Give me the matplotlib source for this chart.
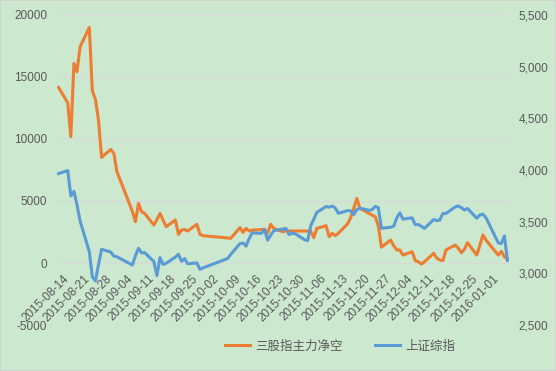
import matplotlib
matplotlib.use("Agg")
import matplotlib.pyplot as plt
import matplotlib.dates as mdates
import matplotlib.ticker as mticker
from matplotlib.transforms import ScaledTranslation
from matplotlib.patches import Rectangle
import pandas as pd

dates = [
    "2015-08-14", "2015-08-17", "2015-08-18", "2015-08-19", "2015-08-20", "2015-08-21",
    "2015-08-24", "2015-08-25", "2015-08-26", "2015-08-27", "2015-08-28", "2015-08-31",
    "2015-09-01", "2015-09-02", "2015-09-07", "2015-09-08", "2015-09-09", "2015-09-10",
    "2015-09-11", "2015-09-14", "2015-09-15", "2015-09-16", "2015-09-17", "2015-09-18",
    "2015-09-21", "2015-09-22", "2015-09-23", "2015-09-24", "2015-09-25", "2015-09-28",
    "2015-09-29", "2015-09-30", "2015-10-08", "2015-10-09", "2015-10-12", "2015-10-13",
    "2015-10-14", "2015-10-15", "2015-10-16", "2015-10-19", "2015-10-20", "2015-10-21",
    "2015-10-22", "2015-10-23", "2015-10-26", "2015-10-27", "2015-10-28", "2015-10-29",
    "2015-10-30", "2015-11-02", "2015-11-03", "2015-11-04", "2015-11-05", "2015-11-06",
    "2015-11-09", "2015-11-10", "2015-11-11", "2015-11-12", "2015-11-13", "2015-11-16",
    "2015-11-17", "2015-11-18", "2015-11-19", "2015-11-20", "2015-11-23", "2015-11-24",
    "2015-11-25", "2015-11-26", "2015-11-27", "2015-11-30", "2015-12-01", "2015-12-02",
    "2015-12-03", "2015-12-04", "2015-12-07", "2015-12-08", "2015-12-09", "2015-12-10",
    "2015-12-11", "2015-12-14", "2015-12-15", "2015-12-16", "2015-12-17", "2015-12-18",
    "2015-12-21", "2015-12-22", "2015-12-23", "2015-12-24", "2015-12-25", "2015-12-28",
    "2015-12-29", "2015-12-30", "2015-12-31", "2016-01-04", "2016-01-05", "2016-01-06",
    "2016-01-07",
]

net_short = [
    14160, 12920, 10180, 16090, 15420, 17430,
    19000, 13890, 13190, 11500, 8520, 9160,
    8840, 7360, 4170, 3330, 4810, 4130,
    4000, 3060, 3500, 4000, 3450, 2930,
    3470, 2310, 2660, 2700, 2580, 3120,
    2310, 2200, 2020, 1990, 2850, 2470,
    2790, 2580, 2650, 2700, 2710, 2400,
    3120, 2790, 2520, 2600, 2580, 2580,
    2580, 2580, 2580, 2580, 2040, 2790,
    3010, 2120, 2390, 2200, 2400, 3150,
    3650, 4400, 5210, 4410, 4000, 3850,
    3730, 3000, 1270, 1850, 1400, 1050,
    1050, 640, 910, 190, 100, -80,
    100, 780, 400, 240, 190, 1050,
    1450, 1200, 830, 1100, 1640, 640,
    1400, 2260, 1850, 640, 950, 500,
    300,
]

sse = [
    3965.33, 3993.67, 3748.16, 3794.11, 3664.29, 3507.74,
    3209.91, 2964.97, 2927.29, 3083.59, 3232.35, 3205.99,
    3166.62, 3160.17, 3080.42, 3170.45, 3243.09, 3197.89,
    3200.23, 3114.80, 2977.56, 3152.26, 3086.06, 3097.92,
    3156.54, 3185.62, 3115.89, 3142.69, 3092.35, 3100.76,
    3038.14, 3052.78, 3143.36, 3183.15, 3287.66, 3293.23,
    3262.44, 3338.07, 3391.35, 3386.70, 3425.33, 3320.68,
    3368.74, 3412.43, 3429.58, 3434.34, 3375.20, 3387.32,
    3382.56, 3325.08, 3316.70, 3459.64, 3522.82, 3590.03,
    3646.88, 3640.49, 3650.25, 3632.90, 3580.84, 3606.96,
    3604.80, 3568.47, 3617.06, 3630.50, 3610.31, 3616.11,
    3647.93, 3635.55, 3436.30, 3445.40, 3456.31, 3536.91,
    3584.82, 3524.99, 3536.93, 3470.07, 3472.44, 3455.50,
    3434.58, 3520.67, 3510.35, 3516.19, 3580.00, 3578.96,
    3642.47, 3651.77, 3636.09, 3612.49, 3627.91, 3533.78,
    3563.74, 3572.88, 3539.18, 3296.26, 3287.71, 3361.84,
    3125.00,
]

series_names = ["三股指主力净空", "上证综指"]
left_ticks = [-5000, 0, 5000, 10000, 15000, 20000]
right_ticks = [2500, 3000, 3500, 4000, 4500, 5000, 5500]
x_tick_dates = pd.date_range("2015-08-14", "2016-01-01", freq="7D")

BG = "#CCE8CF"
ORANGE = "#ED7D31"
BLUE = "#5B9BD5"
TXT = "#595959"

plt.rcParams['font.family'] = ['Liberation Sans', 'Noto Sans CJK SC', 'DejaVu Sans']

fig = plt.figure(figsize=(5.56, 3.71), dpi=100, facecolor=BG)
ax = fig.add_axes([57/556, 1-325/371, (509-57)/556, (325-15)/371])
ax.set_facecolor(BG)

x = pd.to_datetime(dates)
l1, = ax.plot(x, net_short, color=ORANGE, lw=2.2, solid_joinstyle='round')
ax.set_ylim(-5000, 20000)
ax.set_yticks(left_ticks)
ax.yaxis.set_major_formatter(mticker.FuncFormatter(lambda v, p: f"{int(v)}"))
ax.grid(axis='y', color='#d9d9d9', lw=0.8)
ax.set_axisbelow(True)

ax.set_xlim(x[0] - pd.Timedelta(hours=12), x[-1] + pd.Timedelta(hours=12))
ax.set_xticks(x_tick_dates)
ax.xaxis.set_major_formatter(mdates.DateFormatter("%Y-%m-%d"))
ax.spines['bottom'].set_position(('data', 0))
for s in ax.spines.values():
    s.set_color('none')
ax.tick_params(axis='both', length=0, colors=TXT, labelsize=8.5)
ax.tick_params(axis='y', pad=7)
off = ScaledTranslation(0.04, -0.05, fig.dpi_scale_trans)
for lab in ax.get_xticklabels():
    lab.set_rotation(45)
    lab.set_ha('right')
    lab.set_va('top')
    lab.set_rotation_mode('anchor')
    lab.set_transform(lab.get_transform() + off)

ax2 = ax.twinx()
l2, = ax2.plot(x, sse, color=BLUE, lw=2.2, solid_joinstyle='round')
ax2.set_ylim(2500, 5500)
ax2.set_yticks(right_ticks)
ax2.yaxis.set_major_formatter(mticker.FuncFormatter(lambda v, p: f"{int(v):,}"))
for s in ax2.spines.values():
    s.set_color('none')
ax2.tick_params(axis='y', length=0, colors=TXT, labelsize=8.5, pad=7)

leg = fig.legend([l1, l2], series_names, loc='center', ncol=2,
                 bbox_to_anchor=(340/556, 1-346/371), frameon=False,
                 fontsize=9, handlelength=2.0, handletextpad=0.4,
                 columnspacing=2.6, labelcolor=TXT,
                 prop={'family': ['Noto Sans CJK SC', 'DejaVu Sans'], 'size': 9})

fig.patches.append(Rectangle((0, 0), 1, 1, transform=fig.transFigure,
                             fill=False, edgecolor='#d0d0d0', lw=1.2))

fig.savefig("out.png", dpi=100, facecolor=BG)
